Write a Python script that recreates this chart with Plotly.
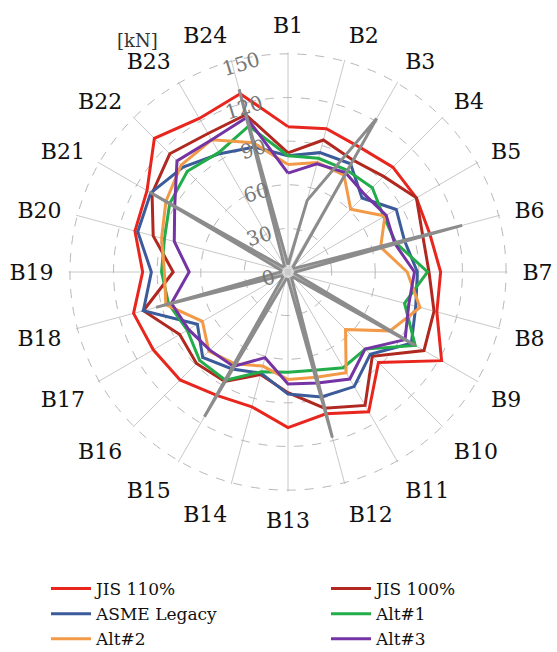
import plotly.graph_objects as go

# Bolt positions around the flange
bolts = ["B1", "B2", "B3", "B4", "B5", "B6", "B7", "B8", "B9", "B10", "B11", "B12",
         "B13", "B14", "B15", "B16", "B17", "B18", "B19", "B20", "B21", "B22", "B23", "B24"]

# Bolt forces [kN]
jis_110 = [100, 102, 99, 102, 102, 101, 105, 106, 122, 88, 111, 101,
           107, 96, 98, 105, 107, 110, 100, 109, 112, 130, 122, 127]
jis_100 = [82, 94, 89, 93, 102, 96, 97, 104, 108, 82, 106, 97,
           83, 73, 87, 89, 86, 103, 79, 96, 108, 115, 110, 112]
asme_legacy = [80, 85, 86, 72, 86, 83, 89, 91, 98, 80, 91, 89,
               84, 72, 77, 83, 72, 103, 94, 107, 109, 102, 94, 89]
alt_1 = [80, 81, 81, 82, 76, 77, 96, 83, 101, 75, 76, 70,
         69, 71, 86, 86, 80, 85, 87, 88, 94, 98, 95, 104]
alt_2 = [74, 78, 77, 61, 77, 66, 82, 94, 81, 56, 80, 75,
         74, 67, 73, 77, 68, 87, 85, 90, 97, 104, 105, 92]
alt_3 = [68, 77, 79, 75, 78, 76, 87, 86, 93, 75, 85, 79,
         77, 61, 75, 76, 79, 83, 68, 81, 90, 108, 105, 110]
pass_1 = [5, 51, 122, 5, 5, 124, 5, 5, 101, 5, 5, 118,
          5, 5, 115, 5, 5, 94, 5, 5, 110, 5, 5, 130]

radial_ticks = [0, 30, 60, 90, 120, 150]

# (name, values, colour, legend column)
series = [
    ("JIS 110%", jis_110, "#e8261e", "legend"),
    ("JIS 100%", jis_100, "#b0281f", "legend2"),
    ("ASME Legacy", asme_legacy, "#3b5b9b", "legend"),
    ("Alt#1", alt_1, "#22ad4a", "legend2"),
    ("Alt#2", alt_2, "#f29a48", "legend"),
    ("Alt#3", alt_3, "#7434a3", "legend2"),
]

SERIF = "DejaVu Serif"
CX, CY, R = 288, 272, 219.5

fig = go.Figure()
for name, vals, color, leg in series:
    fig.add_trace(go.Scatterpolar(
        r=vals + vals[:1], theta=bolts + bolts[:1], mode="lines", name=name,
        line=dict(color=color, width=3), legend=leg,
    ))

fig.add_trace(go.Scatterpolar(
    r=pass_1 + pass_1[:1], theta=bolts + bolts[:1], mode="lines",
    line=dict(color="#8c8c8c", width=3), showlegend=False,
))

legend_style = dict(
    orientation="v", y=1 - 571 / 652, xanchor="left", yanchor="top",
    font=dict(family=SERIF, size=17, color="#111"),
    tracegroupgap=0, itemwidth=40, bgcolor="rgba(0,0,0,0)",
)

fig.update_layout(
    width=557, height=652,
    margin=dict(l=0, r=0, t=0, b=0, autoexpand=False),
    paper_bgcolor="white",
    polar=dict(
        domain=dict(x=[(CX - R) / 557, (CX + R) / 557],
                    y=[1 - (CY + R) / 652, 1 - (CY - R) / 652]),
        bgcolor="white",
        angularaxis=dict(
            direction="clockwise", rotation=90,
            categoryorder="array", categoryarray=bolts,
            showline=False, gridcolor="#c8c8c8", gridwidth=1,
            ticks="outside", ticklen=10, tickwidth=0, tickcolor="white",
            tickfont=dict(family=SERIF, size=22, color="#111"),
        ),
        radialaxis=dict(
            range=[0, 151], tickvals=radial_ticks, angle=94, tickangle=77,
            side="counterclockwise",
            showline=False, ticks="", gridcolor="#b8b8b8", griddash="dash",
            tickfont=dict(family=SERIF, size=20, color="#777"),
        ),
    ),
    legend=dict(x=46 / 557, **legend_style),
    legend2=dict(x=326 / 557, **legend_style),
    annotations=[dict(
        text="[kN]", x=137 / 557, y=1 - 41 / 652, xref="paper", yref="paper",
        xanchor="center", yanchor="middle",
        showarrow=False, font=dict(family=SERIF, size=18, color="#333"),
    )],
)

fig.write_html("out.html")
